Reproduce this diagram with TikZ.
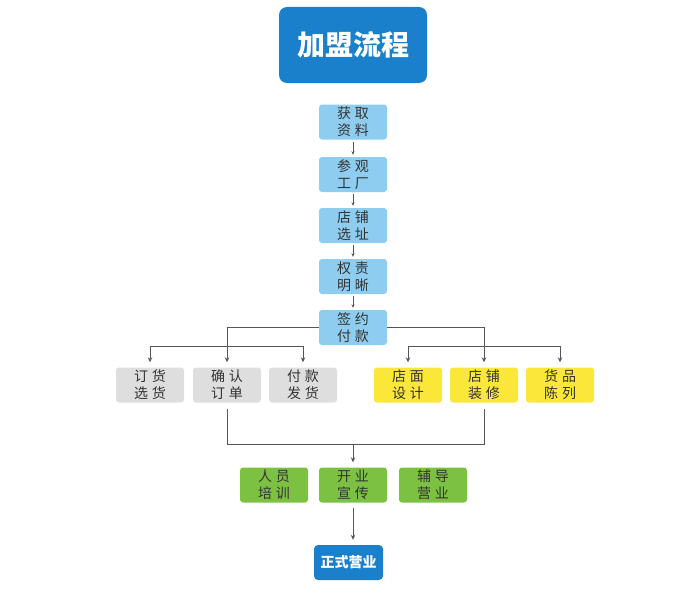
\documentclass[tikz,border=0pt]{standalone}
\usepackage{fontspec}
\newfontfamily\cjk{Noto Sans CJK SC}
\usetikzlibrary{arrows.meta}
\definecolor{tblue}{HTML}{1A80CC}
\definecolor{lblue}{HTML}{8ECDF0}
\definecolor{lgray}{HTML}{DEDEDE}
\definecolor{lyellow}{HTML}{FBE73A}
\definecolor{lgreen}{HTML}{7DC143}
\definecolor{txt}{HTML}{333333}
\definecolor{lnc}{HTML}{555555}
\newcommand{\tl}[4]{#1\hspace{4pt}#2\\#3\hspace{4pt}#4}
\begin{document}
\begin{tikzpicture}[x=1pt,y=-1pt,
  box/.style={rounded corners=3pt, minimum width=68pt, minimum height=35pt, inner sep=0pt,
    align=center, font=\cjk\fontsize{14}{17}\selectfont, text=txt},
  conn/.style={draw=lnc, line width=0.9pt},
  arr/.style={conn, -{Stealth[length=5pt,width=4.5pt]}},
  sarr/.style={draw=lnc, line width=0.6pt, -{Stealth[length=3.5pt,width=3pt]}, shorten <=2pt, shorten >=2pt}]
\useasboundingbox (0,0) rectangle (700,594);
\node[rounded corners=8pt, minimum width=148pt, minimum height=76pt, fill=tblue, text=white,
  font=\cjk\bfseries\fontsize{28}{30}\selectfont] (title) at (353,45) {加盟流程};
% vertical chain
\node[box, fill=lblue] (s1) at (353,122) {\tl{获}{取}{资}{料}};
\node[box, fill=lblue] (s2) at (353,174.5) {\tl{参}{观}{工}{厂}};
\node[box, fill=lblue] (s3) at (353,225.5) {\tl{店}{铺}{选}{址}};
\node[box, fill=lblue] (s4) at (353,276.5) {\tl{权}{责}{明}{晰}};
\node[box, fill=lblue] (s5) at (353,327.5) {\tl{签}{约}{付}{款}};
\draw[sarr] (s1) -- (s2);
\draw[sarr] (s2) -- (s3);
\draw[sarr] (s3) -- (s4);
\draw[sarr] (s4) -- (s5);
% second row
\node[box, fill=lgray] (g1) at (150,385) {\tl{订}{货}{选}{货}};
\node[box, fill=lgray] (g2) at (227,385) {\tl{确}{认}{订}{单}};
\node[box, fill=lgray] (g3) at (303,385) {\tl{付}{款}{发}{货}};
\node[box, fill=lyellow] (y1) at (408,385) {\tl{店}{面}{设}{计}};
\node[box, fill=lyellow] (y2) at (484,385) {\tl{店}{铺}{装}{修}};
\node[box, fill=lyellow] (y3) at (560,385) {\tl{货}{品}{陈}{列}};
\coordinate (bar) at (0,346);
\draw[arr, shorten >=5pt] (s5.west) -| (g2.north);
\draw[arr, shorten >=5pt] (s5.east) -| (y2.north);
\draw[conn] (g1.north|-bar) -- (g3.north|-bar);
\draw[arr, shorten >=5pt] (g1.north|-bar) -- (g1.north);
\draw[arr, shorten >=5pt] (g3.north|-bar) -- (g3.north);
\draw[conn] (y1.north|-bar) -- (y3.north|-bar);
\draw[arr, shorten >=5pt] (y1.north|-bar) -- (y1.north);
\draw[arr, shorten >=5pt] (y3.north|-bar) -- (y3.north);
% third row
\node[box, fill=lgreen] (n1) at (274,485) {\tl{人}{员}{培}{训}};
\node[box, fill=lgreen] (n2) at (353,485) {\tl{开}{业}{宣}{传}};
\node[box, fill=lgreen] (n3) at (433,485) {\tl{辅}{导}{营}{业}};
\coordinate (bbar) at (0,444);
\draw[conn] ([yshift=-6pt]g2.south) -- (g2.south|-bbar) -- (y2.south|-bbar) -- ([yshift=-6pt]y2.south);
\draw[arr, shorten >=5pt] (n2.north|-bbar) -- (n2.north);
% final
\node[rounded corners=4pt, minimum width=69pt, minimum height=35pt, fill=tblue, text=white,
  font=\cjk\bfseries\fontsize{14}{16}\selectfont] (fin) at (348.5,562.5) {正式营业};
\draw[arr, shorten <=5pt, shorten >=5pt] (n2.south) -- (n2.south|-fin.north);
\end{tikzpicture}
\end{document}
